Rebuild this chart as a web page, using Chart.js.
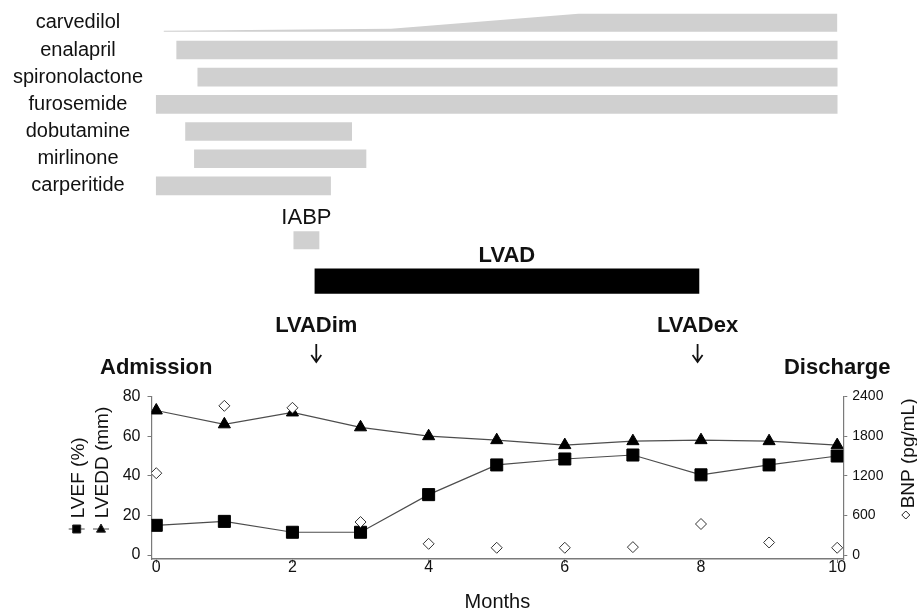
<!DOCTYPE html>
<html>
<head>
<meta charset="utf-8">
<script src="https://cdn.jsdelivr.net/npm/chart.js@4/dist/chart.umd.min.js"></script>
<style>
html,body{margin:0;padding:0;background:#fff;}
#wrap{position:relative;width:917px;height:616px;overflow:hidden;background:#fff;}
canvas{position:absolute;left:0;}
#top{top:0;}
#bot{top:380px;}
</style>
</head>
<body>
<div id="wrap">
<canvas id="top" width="917" height="380"></canvas>
<canvas id="bot" width="917" height="236"></canvas>
</div>
<script>
// ---------------- data ----------------
const drugs      = ['carvedilol', 'enalapril', 'spironolactone', 'furosemide', 'dobutamine', 'mirlinone', 'carperitide'];
const drugStart  = [0.11, 0.30, 0.61, 0.0, 0.43, 0.56, 0.0];
const drugEnd    = [10, 10, 10, 10, 2.87, 3.08, 2.56];
// carvedilol up-titration (fraction of the maintenance dose)
const carvedilolMonths = [0.11, 3.45, 6.2, 10];
const carvedilolDose   = [0.06, 0.17, 1, 1];

const devices     = ['IABP', 'LVAD'];
const deviceStart = [2.02, 2.33];
const deviceEnd   = [2.39, 7.97];

const events     = ['Admission', 'LVADim', 'LVADex', 'Discharge'];
const eventMonth = [0, 2.35, 7.95, 10];

const months = [0, 1, 2, 3, 4, 5, 6, 7, 8, 9, 10];
const lvef   = [15, 17, 11.5, 11.5, 30.5, 45.5, 48.5, 50.5, 40.5, 45.5, 50];
const lvedd  = [73, 66, 72, 64.5, 60, 58, 55.5, 57.5, 58, 57.5, 55.5];
const bnp    = [1240, 2260, 2230, 500, 170, 110, 110, 120, 470, 190, 110];

const xTicks    = [0, 2, 4, 6, 8, 10];
const leftTicks = [0, 20, 40, 60, 80];
const bnpTicks  = [0, 600, 1200, 1800, 2400];

// ---------------- styling / layout ----------------
const FONT = "'Liberation Sans', Arial, Helvetica, sans-serif";
Chart.defaults.font.family = FONT;
Chart.defaults.color = '#111';
const INK = '#111';
const BAR_GREY = '#d0d0d0';
const AXIS_GREY = '#7a7a7a';
const LINE_GREY = '#4d4d4d';
const X_MIN = -0.07, X_MAX = 10.09;
const LEFT_W = 151.5, RIGHT_W = 73.7;

// ---------------- top chart: treatments ----------------
const ROW_MIN = -0.839, ROW_MAX = 13.14;
const HALF = 0.331;                      // half bar thickness in row units
const carvRow = drugs.indexOf('carvedilol');
const iabpRow = drugs.length + 1;
const lvadRow = drugs.length + 2.5;

const carvedilolShape = carvedilolMonths
  .map((m, i) => ({ x: m, y: carvRow + HALF - carvedilolDose[i] * 2 * HALF }))
  .concat([
    { x: carvedilolMonths[carvedilolMonths.length - 1], y: carvRow + HALF },
    { x: carvedilolMonths[0], y: carvRow + HALF }
  ]);

const drugBars = drugs
  .map((d, i) => ({ x: [drugStart[i], drugEnd[i]], y: i }))
  .filter((_, i) => i !== carvRow);

function drawArrow(ctx, x, y0, y1) {
  ctx.save();
  ctx.strokeStyle = INK;
  ctx.lineWidth = 1.8;
  ctx.beginPath();
  ctx.moveTo(x, y0); ctx.lineTo(x, y1);
  ctx.moveTo(x - 5, y1 - 7); ctx.lineTo(x, y1); ctx.lineTo(x + 5, y1 - 7);
  ctx.stroke();
  ctx.restore();
}

const topAnnotations = {
  id: 'topAnnotations',
  afterDatasetsDraw(chart) {
    const { ctx, scales: { x, y } } = chart;
    ctx.save();
    ctx.fillStyle = INK;
    ctx.textAlign = 'center';
    ctx.textBaseline = 'middle';
    ctx.font = "22px " + FONT;
    ctx.fillText(devices[0], x.getPixelForValue((deviceStart[0] + deviceEnd[0]) / 2), y.getPixelForValue(iabpRow) - 22);
    ctx.font = "bold 22px " + FONT;
    ctx.fillText(devices[1], x.getPixelForValue((deviceStart[1] + deviceEnd[1]) / 2), y.getPixelForValue(lvadRow) - 25.5);
    events.forEach((e, i) => {
      const px = x.getPixelForValue(eventMonth[i]);
      const edge = (i === 0 || i === events.length - 1);
      ctx.fillText(e, px, edge ? 368 : 326);
      if (!edge) drawArrow(ctx, px, 344, 362);
    });
    ctx.restore();
  }
};

new Chart(document.getElementById('top'), {
  type: 'bar',
  data: {
    datasets: [
      { type: 'line', data: carvedilolShape, fill: 'shape', backgroundColor: BAR_GREY,
        borderColor: 'rgba(0,0,0,0)', borderWidth: 0, pointRadius: 0, tension: 0 },
      { data: drugBars, backgroundColor: BAR_GREY, barThickness: 18, grouped: false },
      { data: [{ x: [deviceStart[0], deviceEnd[0]], y: iabpRow }], backgroundColor: BAR_GREY, barThickness: 17.5, grouped: false },
      { data: [{ x: [deviceStart[1], deviceEnd[1]], y: lvadRow }], backgroundColor: '#000', barThickness: 24.5, grouped: false }
    ]
  },
  options: {
    indexAxis: 'y',
    responsive: false,
    animation: false,
    devicePixelRatio: 1,
    events: [],
    layout: { padding: { left: 0, right: RIGHT_W, top: 0, bottom: 0 } },
    plugins: { legend: { display: false }, tooltip: { enabled: false } },
    scales: {
      x: { type: 'linear', min: X_MIN, max: X_MAX, display: false },
      y: {
        type: 'linear', reverse: true, offset: false, min: ROW_MIN, max: ROW_MAX,
        afterFit: s => { s.width = LEFT_W; s.paddingTop = 0; s.paddingBottom = 0; },
        afterBuildTicks: s => { s.ticks = drugs.map((_, i) => ({ value: i })); },
        grid: { display: false, drawTicks: false },
        border: { display: false },
        ticks: { callback: v => drugs[v], crossAlign: 'center', padding: 8.5, autoSkip: false,
                 font: { size: 20 }, color: INK }
      }
    }
  },
  plugins: [topAnnotations]
});

// ---------------- bottom chart: measurements ----------------
function symbol(ctx, style, x, y, r, fill, line) {
  ctx.save();
  if (line) {
    ctx.strokeStyle = LINE_GREY; ctx.lineWidth = 1;
    ctx.beginPath(); ctx.moveTo(x - 8, y); ctx.lineTo(x + 8, y); ctx.stroke();
  }
  ctx.fillStyle = fill; ctx.strokeStyle = '#222'; ctx.lineWidth = 1;
  ctx.beginPath();
  if (style === 'rect') ctx.rect(x - r, y - r, 2 * r, 2 * r);
  if (style === 'triangle') { ctx.moveTo(x, y - r * 1.1); ctx.lineTo(x + r, y + r * 0.7); ctx.lineTo(x - r, y + r * 0.7); ctx.closePath(); }
  if (style === 'diamond') { ctx.moveTo(x, y - r); ctx.lineTo(x + r, y); ctx.lineTo(x, y + r); ctx.lineTo(x - r, y); ctx.closePath(); }
  ctx.fill(); ctx.stroke();
  ctx.restore();
}

const axisTitles = {
  id: 'axisTitles',
  afterDraw(chart) {
    const { ctx, chartArea: ca } = chart;
    const rot = (text, bx, by) => {
      ctx.save(); ctx.translate(bx, by); ctx.rotate(-Math.PI / 2);
      ctx.fillText(text, 0, 0); ctx.restore();
    };
    ctx.save();
    ctx.fillStyle = INK;
    ctx.font = "19px " + FONT;
    ctx.textAlign = 'left';
    ctx.textBaseline = 'alphabetic';
    rot('LVEF (%)', ca.left - 67.2, ca.bottom - 40.7);
    rot('LVEDD (mm)', ca.left - 43.7, ca.bottom - 40.7);
    rot('BNP (pg/mL)', ca.right + 70.2, ca.bottom - 50.7);
    ctx.restore();
    symbol(ctx, 'rect', ca.left - 74.8, ca.bottom - 30, 4, '#000', true);
    symbol(ctx, 'triangle', ca.left - 50.5, ca.bottom - 30, 4.5, '#000', true);
    symbol(ctx, 'diamond', ca.right + 62.5, ca.bottom - 44, 4, '#fff', false);
  }
};

const pts = arr => months.map((m, i) => ({ x: m, y: arr[i] }));

new Chart(document.getElementById('bot'), {
  type: 'line',
  data: {
    datasets: [
      { label: 'BNP', data: pts(bnp), yAxisID: 'yBNP', showLine: false,
        pointStyle: 'rectRot', pointRadius: 5.5, backgroundColor: '#fff', borderColor: '#333', borderWidth: 1 },
      { label: 'LVEF', data: pts(lvef), yAxisID: 'y', borderColor: LINE_GREY, borderWidth: 1.2, tension: 0,
        pointStyle: 'rect', pointRadius: 8.5, pointBackgroundColor: '#000', pointBorderColor: '#000', pointBorderWidth: 1 },
      { label: 'LVEDD', data: pts(lvedd), yAxisID: 'y', borderColor: LINE_GREY, borderWidth: 1.2, tension: 0,
        pointStyle: 'triangle', pointRadius: 7, pointBackgroundColor: '#000', pointBorderColor: '#000', pointBorderWidth: 1 }
    ]
  },
  options: {
    responsive: false,
    animation: false,
    devicePixelRatio: 1,
    events: [],
    layout: { padding: { top: 16, left: 0, right: 0, bottom: 0 } },
    plugins: { legend: { display: false }, tooltip: { enabled: false } },
    scales: {
      x: {
        type: 'linear', min: X_MIN, max: X_MAX,
        afterBuildTicks: s => { s.ticks = xTicks.map(v => ({ value: v })); },
        afterFit: s => { s.height = 57; },
        grid: { drawOnChartArea: false, tickLength: 4, color: AXIS_GREY },
        border: { color: AXIS_GREY, width: 1.5 },
        ticks: { font: { size: 16 }, color: INK, padding: -5, maxRotation: 0, callback: v => String(v) },
        title: { display: true, text: 'Months', font: { size: 20 }, color: INK, padding: { top: 0, bottom: 2 } }
      },
      y: {
        type: 'linear', position: 'left', min: -2, max: 80,
        afterBuildTicks: s => { s.ticks = leftTicks.map(v => ({ value: v })); },
        afterFit: s => { s.width = LEFT_W; },
        grid: { drawOnChartArea: false, tickLength: 4, color: AXIS_GREY },
        border: { color: AXIS_GREY, width: 1.2 },
        ticks: { font: { size: 16 }, color: INK, padding: 7, callback: v => String(v) }
      },
      yBNP: {
        type: 'linear', position: 'right', min: -60, max: 2400,
        afterBuildTicks: s => { s.ticks = bnpTicks.map(v => ({ value: v })); },
        afterFit: s => { s.width = RIGHT_W; },
        grid: { drawOnChartArea: false, tickLength: 4, color: AXIS_GREY },
        border: { color: AXIS_GREY, width: 1.2 },
        ticks: { font: { size: 14 }, color: INK, padding: 5, callback: v => String(v) }
      }
    }
  },
  plugins: [axisTitles]
});
</script>
</body>
</html>
